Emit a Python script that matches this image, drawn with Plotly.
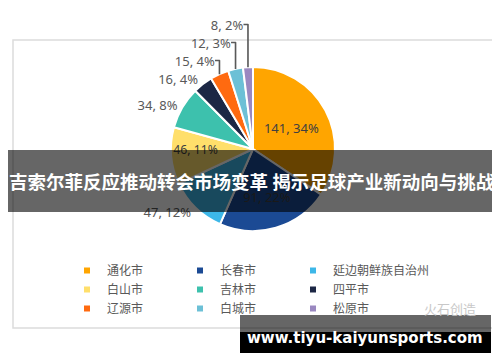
import plotly.graph_objects as go

# ---- data ----
cities = ["通化市", "长春市", "延边朝鲜族自治州",
          "白山市", "吉林市", "四平市",
          "辽源市", "白城市", "松原市"]
counts = [141, 91, 47, 46, 34, 16, 15, 12, 8]
shares = [34, 22, 12, 11, 8, 4, 4, 3, 2]

banner_text = "吉索尔菲反应推动转会市场变革 揭示足球产业新动向与挑战"
site_text = "www.tiyu-kaiyunsports.com"
brand_text = "火石创造"

# ---- styles ----
colors = ["#FFA500", "#1B4A94", "#3CB7E8", "#FFDF6B", "#3DC1AD",
          "#1C2745", "#FF6A10", "#6CC0D6", "#9A88C0"]
text_pos = ["inside", "inside", "outside", "inside", "outside",
            "outside", "outside", "outside", "outside"]

# the page body adds an 8px margin, so the figure is offset by 8px
OFF = 8
W, H = 500 - OFF, 362 - OFF


def fx(x):
    return (x - OFF) / W


def fy(y):
    return 1 - (y - OFF) / H


cx, cy, r = 253, 149, 82

fig = go.Figure()
fig.add_trace(go.Pie(
    labels=cities, values=counts, customdata=shares,
    texttemplate="%{value}, %{customdata}%",
    textposition=text_pos,
    sort=False, direction="clockwise", rotation=0,
    marker=dict(colors=colors, line=dict(color="white", width=2)),
    textfont=dict(family="Noto Sans, sans-serif", size=13, color="#404040"),
    outsidetextfont=dict(family="Noto Sans, sans-serif", size=13, color="#595959"),
    insidetextorientation="horizontal",
    showlegend=False, hoverinfo="skip",
    domain=dict(x=[fx(cx - r), fx(cx + r)], y=[fy(cy + r), fy(cy - r)]),
))

legend_names = ["legend", "legend2", "legend3"]
for i, (name, col) in enumerate(zip(cities, colors)):
    fig.add_trace(go.Scatter(
        x=[None], y=[None], mode="markers", name=name,
        marker=dict(symbol="square", size=6, color=col),
        legend=legend_names[i % 3], hoverinfo="skip",
    ))

leg_common = dict(orientation="v", xanchor="left", yanchor="top",
                  font=dict(family="Noto Sans CJK SC, sans-serif", size=12, color="#595959"),
                  bgcolor="rgba(0,0,0,0)", borderwidth=0, itemwidth=30,
                  tracegroupgap=0, itemclick=False, itemdoubleclick=False)
col_left = [67, 180, 293]
leg_top = 256

fig.update_layout(
    width=W, height=H,
    margin=dict(l=0, r=0, t=0, b=0, autoexpand=False),
    paper_bgcolor="white", plot_bgcolor="white",
    xaxis=dict(visible=False, range=[0, 1], fixedrange=True),
    yaxis=dict(visible=False, range=[0, 1], fixedrange=True),
    legend=dict(x=fx(col_left[0]), y=fy(leg_top), **leg_common),
    legend2=dict(x=fx(col_left[1]), y=fy(leg_top), **leg_common),
    legend3=dict(x=fx(col_left[2]), y=fy(leg_top), **leg_common),
    shapes=[
        dict(type="rect", xref="paper", yref="paper", layer="below",
             x0=fx(13), x1=fx(493), y0=fy(328), y1=fy(40),
             line=dict(color="#DCDCDC", width=1.5), fillcolor="white"),
        dict(type="rect", xref="paper", yref="paper", layer="above",
             x0=0, x1=1, y0=fy(212), y1=fy(150),
             line=dict(width=0), fillcolor="rgba(0,0,0,0.6)"),
        dict(type="rect", xref="paper", yref="paper", layer="above",
             x0=fx(240), x1=fx(491), y0=fy(332), y1=fy(315),
             line=dict(width=0), fillcolor="rgba(0,0,0,0.6)"),
        dict(type="rect", xref="paper", yref="paper", layer="above",
             x0=fx(240), x1=fx(491), y0=fy(353), y1=fy(332),
             line=dict(width=0), fillcolor="black"),
    ],
    annotations=[
        dict(text=banner_text, xref="paper", yref="paper", x=fx(252), y=fy(181),
             showarrow=False, xanchor="center", yanchor="middle",
             font=dict(family="Noto Sans CJK SC, sans-serif", size=18.5, color="white", weight="bold")),
        dict(text=site_text, xref="paper", yref="paper", x=fx(365), y=fy(338),
             showarrow=False, xanchor="center", yanchor="middle",
             font=dict(family="DejaVu Sans, sans-serif", size=15, color="white", weight="bold")),
        dict(text=brand_text, xref="paper", yref="paper", x=fx(478), y=fy(308),
             showarrow=False, xanchor="right", yanchor="middle",
             font=dict(family="Noto Sans CJK SC, sans-serif", size=13, color="#C8C8C8")),
    ],
)

fig.write_html("out.html")
